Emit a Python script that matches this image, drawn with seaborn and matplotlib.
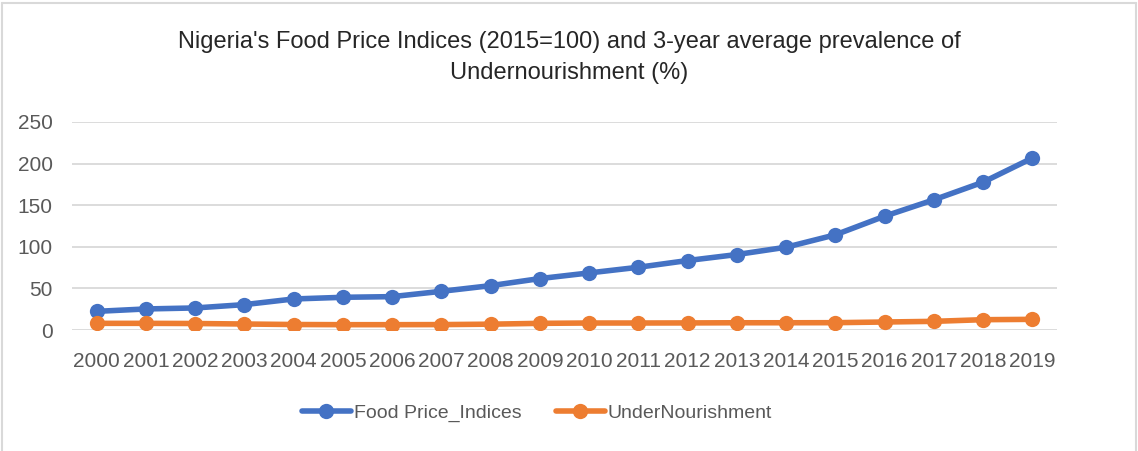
import numpy as np
import pandas as pd
import matplotlib
matplotlib.use("Agg")
import matplotlib.pyplot as plt
from matplotlib.lines import Line2D
import seaborn as sns

# Data
years = list(range(2000, 2020))
food_price_indices = [22.4, 25.3, 26.5, 30.5, 37.3, 39.3, 40.1, 46.5, 53.3, 61.8,
                      68.6, 75.4, 83.5, 90.7, 99.5, 114.4, 136.8, 156.5, 177.7, 206.7]
undernourishment = [8.0, 8.0, 7.8, 7.2, 6.6, 6.4, 6.4, 6.5, 7.0, 8.0,
                    8.4, 8.4, 8.5, 8.7, 8.7, 8.8, 9.6, 10.4, 12.4, 12.8]
series_names = ["Food Price_Indices", "UnderNourishment"]

# Visual settings
PALETTE = ["#4472C4", "#ED7D31"]
TEXT_COLOR = "#595959"
GRID_COLOR = "#D9D9D9"

df = pd.DataFrame({
    "Year": years * 2,
    "Value": food_price_indices + undernourishment,
    "Series": [series_names[0]] * len(years) + [series_names[1]] * len(years),
})

sns.set_style("white")
plt.rcParams["font.family"] = ["Liberation Sans", "DejaVu Sans"]

fig = plt.figure(figsize=(11.38, 4.51), dpi=100)
ax = fig.add_axes([72 / 1138, 1 - 330 / 451, (1057 - 72) / 1138, (330 - 122) / 451])

sns.lineplot(data=df, x="Year", y="Value", hue="Series", palette=PALETTE,
             marker="o", markersize=11, markeredgewidth=0, linewidth=4,
             legend=False, ax=ax)

ax.set_xlim(1999.5, 2019.5)
ax.set_ylim(0, 250)
ax.set_xticks(years)
ax.set_xticklabels([str(y) for y in years])
ax.set_yticks(range(0, 251, 50))
ax.tick_params(axis="both", length=0, labelsize=15, colors=TEXT_COLOR)
ax.tick_params(axis="x", pad=16)
ax.tick_params(axis="y", pad=14)
ax.set_xlabel("")
ax.set_ylabel("")
ax.grid(axis="y", color=GRID_COLOR, linewidth=1.3)
ax.set_axisbelow(True)
for s in ax.spines.values():
    s.set_visible(False)

fig.text(0.5, 1 - 42 / 451, "Nigeria's Food Price Indices (2015=100) and 3-year average prevalence of",
         ha="center", va="center", fontsize=17, color="#262626")
fig.text(0.5, 1 - 73 / 451, "Undernourishment (%)",
         ha="center", va="center", fontsize=17, color="#262626")

handles = [Line2D([], [], color=c, linewidth=4, marker="o", markersize=11,
                  markeredgewidth=0) for c in PALETTE]
fig.legend(handles, series_names, loc="center", bbox_to_anchor=(537 / 1138, 1 - 413 / 451),
           ncol=2, frameon=False, fontsize=14, labelcolor=TEXT_COLOR,
           handlelength=2.5, handletextpad=0.15, columnspacing=1.8)

# chart frame like the original
fig.add_artist(Line2D([2 / 1138, 2 / 1138], [0, 1 - 3 / 451], transform=fig.transFigure,
                      color=GRID_COLOR, linewidth=1.5))
fig.add_artist(Line2D([2 / 1138, 1136 / 1138], [1 - 3 / 451, 1 - 3 / 451],
                      transform=fig.transFigure, color=GRID_COLOR, linewidth=1.5))
fig.add_artist(Line2D([1136 / 1138, 1136 / 1138], [0, 1 - 3 / 451], transform=fig.transFigure,
                      color=GRID_COLOR, linewidth=1.5))

fig.savefig("out.png", dpi=100)
